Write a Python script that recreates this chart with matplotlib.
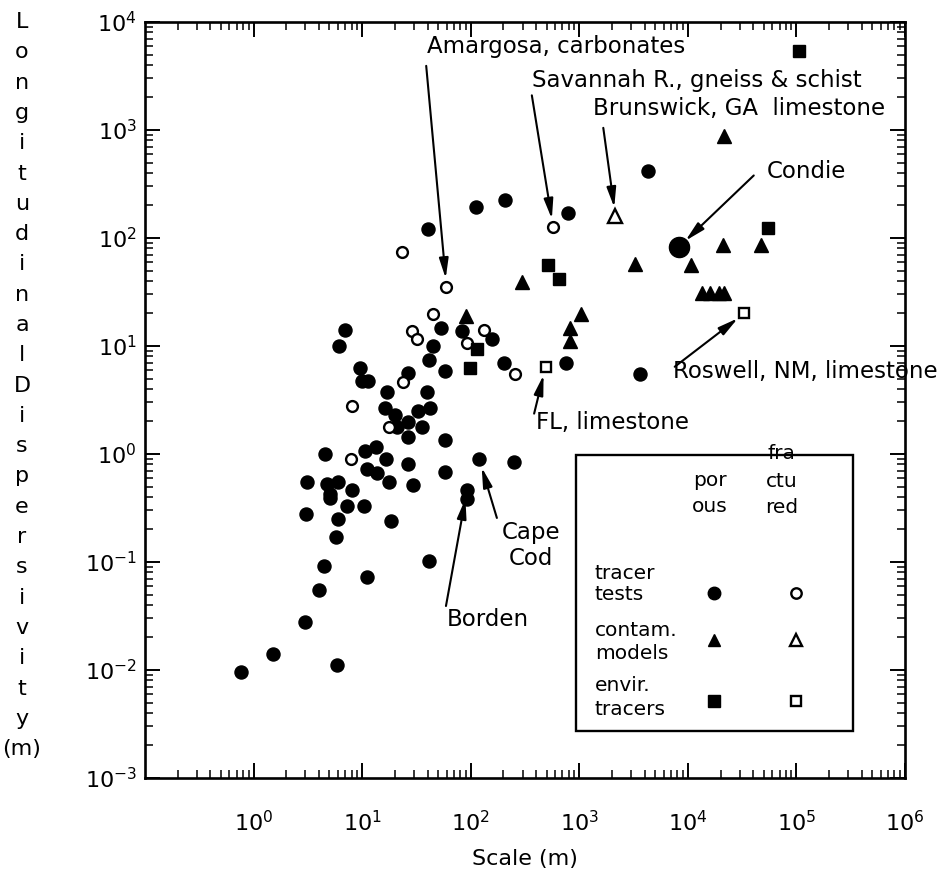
import matplotlib
matplotlib.use("Agg")
import matplotlib.pyplot as plt
from matplotlib.patches import Rectangle

plt.rcParams['font.family'] = ['DejaVu Sans']
plt.rcParams['mathtext.fontset'] = 'dejavusans'

# ---------------- data (scale m, longitudinal dispersivity m) ----------------
porous_tracer_x = [6.9, 6.1, 53.5, 44.9, 41.7, 57.8, 9.6, 9.9, 11.4, 16.9, 39.4, 26.7, 16.1, 20.1,
                   33.0, 42.4, 20.9, 26.7, 35.5, 26.4, 57.8, 4.56, 10.7, 13.5, 16.6, 11.0, 13.6, 26.4,
                   57.8, 3.09, 4.73, 5.97, 5.07, 5.07, 8.0, 17.7, 29.3, 7.2, 10.5, 3.07, 6.0, 18.6,
                   5.7, 4.5, 41.0, 11.1, 4.04, 3.0, 1.52, 0.77, 5.9, 4270, 208, 113, 780, 40.8,
                   83.6, 157, 202, 759, 3650, 120, 252, 92.3, 92.3]
porous_tracer_y = [14.1, 10.0, 14.8, 9.9, 7.4, 5.9, 6.3, 4.7, 4.7, 3.75, 3.75, 5.6, 2.68, 2.30,
                   2.50, 2.65, 1.79, 1.99, 1.79, 1.43, 1.35, 1.01, 1.07, 1.15, 0.90, 0.72, 0.66, 0.81,
                   0.68, 0.55, 0.53, 0.55, 0.43, 0.39, 0.46, 0.55, 0.52, 0.33, 0.33, 0.28, 0.25, 0.24,
                   0.17, 0.092, 0.102, 0.073, 0.055, 0.028, 0.0141, 0.0096, 0.0112, 415, 225, 192, 170, 122,
                   13.8, 11.6, 7.0, 7.0, 5.5, 0.89, 0.85, 0.46, 0.38]

fractured_tracer_x = [59.8, 23.2, 575, 45.4, 28.7, 31.9, 132, 93.3, 255, 23.7, 17.5, 8.0, 7.96]
fractured_tracer_y = [35.4, 73.7, 126, 19.8, 13.9, 11.6, 14.0, 10.6, 5.5, 4.67, 1.79, 2.80, 0.90]

porous_model_x = [91, 299, 3280, 1040, 826, 826, 21700, 10700, 20900, 47500, 13500, 15900, 19200, 21700]
porous_model_y = [19.1, 38.9, 57.8, 19.8, 14.6, 11.1, 886, 56.2, 86.1, 86.1, 30.8, 30.8, 30.8, 30.8]

fractured_model_x = [2150]
fractured_model_y = [161]

porous_env_x = [515, 644, 114, 98.9, 106700, 54300]
porous_env_y = [56.2, 41.5, 9.3, 6.2, 5420, 124]

fractured_env_x = [489, 33200]
fractured_env_y = [6.4, 20.1]

condie_x = [8360]
condie_y = [83.4]

x_ticks = [1e0, 1e1, 1e2, 1e3, 1e4, 1e5, 1e6]
x_tick_labels = [r'$10^{0}$', r'$10^{1}$', r'$10^{2}$', r'$10^{3}$', r'$10^{4}$', r'$10^{5}$', r'$10^{6}$']
y_ticks = [1e-3, 1e-2, 1e-1, 1e0, 1e1, 1e2, 1e3, 1e4]
y_tick_labels = [r'$10^{-3}$', r'$10^{-2}$', r'$10^{-1}$', r'$10^{0}$', r'$10^{1}$', r'$10^{2}$',
                 r'$10^{3}$', r'$10^{4}$']

# annotations: label and the data point each arrow points at
annot_labels = ["Amargosa, carbonates", "Savannah R., gneiss & schist", "Brunswick, GA  limestone",
                "Condie", "Roswell, NM, limestone", "FL, limestone", "Cape\nCod", "Borden"]
annot_targets = [(59.8, 35.4), (575, 126), (2150, 161), (8360, 83.4), (33200, 20.1), (489, 6.4),
                 (120, 0.89), (92.3, 0.46)]

ylabel_chars = list("LongitudinalDispersivity") + ["(m)"]

# ---------------- figure ----------------
W, H = 947, 882
fig = plt.figure(figsize=(W / 100, H / 100), dpi=100)
ax = fig.add_axes([145 / W, 1 - 778 / H, 760 / W, 756 / H])
ax.set_xscale('log')
ax.set_yscale('log')
ax.set_xlim(1e-1, 1e6)
ax.set_ylim(1e-3, 1e4)

k = 'black'
ax.plot(porous_tracer_x, porous_tracer_y, 'o', ms=9.4, color=k, mec=k, ls='none', zorder=3)
ax.plot(fractured_tracer_x, fractured_tracer_y, 'o', ms=7.8, mfc='white', mec=k, mew=1.7, ls='none', zorder=3)
ax.plot(porous_model_x, porous_model_y, '^', ms=9.4, color=k, ls='none', zorder=3)
ax.plot(fractured_model_x, fractured_model_y, '^', ms=9.4, mfc='white', mec=k, mew=1.7, ls='none', zorder=3)
ax.plot(porous_env_x, porous_env_y, 's', ms=8.6, color=k, ls='none', zorder=3)
ax.plot(fractured_env_x, fractured_env_y, 's', ms=7.8, mfc='white', mec=k, mew=1.7, ls='none', zorder=3)
ax.plot(condie_x, condie_y, 'o', ms=14.5, color=k, ls='none', zorder=3)

ax.set_xticks(x_ticks)
ax.set_xticklabels(x_tick_labels)
ax.set_yticks(y_ticks)
ax.set_yticklabels(y_tick_labels)
ax.tick_params(which='both', direction='in', top=True, right=True, colors=k)
ax.tick_params(which='major', length=11, width=1.4, labelsize=16)
ax.tick_params(which='minor', length=6, width=1.1)
ax.tick_params(axis='x', which='major', pad=23)
ax.tick_params(axis='y', which='major', pad=6)
for s in ax.spines.values():
    s.set_linewidth(1.9)

ax.set_xlabel("Scale (m)", fontsize=16, labelpad=10)

for i, ch in enumerate(ylabel_chars):
    fig.text(22 / W, 1 - (22 + i * 30.3) / H, ch, ha='center', va='center', fontsize=16)

# annotation text positions (axes fraction) and arrow tails (axes fraction)
text_pos = [(0.371, 0.968), (0.509, 0.923), (0.590, 0.886), (0.818, 0.802), (0.695, 0.538),
            (0.515, 0.470), (0.508, 0.308), (0.397, 0.210)]
text_ha = ['left', 'left', 'left', 'left', 'left', 'left', 'center', 'left']
tails = [(0.370, 0.942), (0.509, 0.903), (0.603, 0.860), (0.801, 0.797), (0.697, 0.544),
         (0.512, 0.482), (0.463, 0.344), (0.396, 0.2275)]
for lab, tgt, tp, ha, tl in zip(annot_labels, annot_targets, text_pos, text_ha, tails):
    ax.text(tp[0], tp[1], lab, transform=ax.transAxes, ha=ha, va='center', fontsize=16.5,
            linespacing=1.15, zorder=4, clip_on=False)
    ax.annotate('', xy=tgt, xycoords='data', xytext=tl, textcoords='axes fraction',
                arrowprops=dict(arrowstyle='-|>,head_length=1.2,head_width=0.28', lw=1.5, color=k,
                                shrinkA=0, shrinkB=6, mutation_scale=10), zorder=4)

# ---------------- custom legend box ----------------
ax.add_patch(Rectangle((0.567, 0.062), 0.365, 0.365, transform=ax.transAxes, fill=True,
                       facecolor='white', edgecolor=k, lw=1.7, zorder=5))
leg_fs = 14.5
for txt, y in zip(["fra", "ctu", "red"], [0.4286, 0.392, 0.3575]):
    ax.text(0.838, y, txt, transform=ax.transAxes, ha='center', va='center', fontsize=leg_fs, zorder=6)
for txt, y in zip(["por", "ous"], [0.394, 0.359]):
    ax.text(0.743, y, txt, transform=ax.transAxes, ha='center', va='center', fontsize=leg_fs, zorder=6)
for txt, y in zip(["tracer", "tests", "contam.", "models", "envir.", "tracers"],
                  [0.271, 0.243, 0.195, 0.165, 0.123, 0.091]):
    ax.text(0.592, y, txt, transform=ax.transAxes, ha='left', va='center', fontsize=leg_fs, zorder=6)
ax.plot([0.749], [0.245], 'o', ms=9, color=k, transform=ax.transAxes, zorder=6, clip_on=False)
ax.plot([0.856], [0.245], 'o', ms=7.5, mfc='white', mec=k, mew=1.7, transform=ax.transAxes, zorder=6)
ax.plot([0.749], [0.1825], '^', ms=9, color=k, transform=ax.transAxes, zorder=6)
ax.plot([0.856], [0.1825], '^', ms=8.5, mfc='white', mec=k, mew=1.7, transform=ax.transAxes, zorder=6)
ax.plot([0.749], [0.1025], 's', ms=8.5, color=k, transform=ax.transAxes, zorder=6)
ax.plot([0.856], [0.1025], 's', ms=7.8, mfc='white', mec=k, mew=1.7, transform=ax.transAxes, zorder=6)

fig.savefig("out.png", dpi=100)
